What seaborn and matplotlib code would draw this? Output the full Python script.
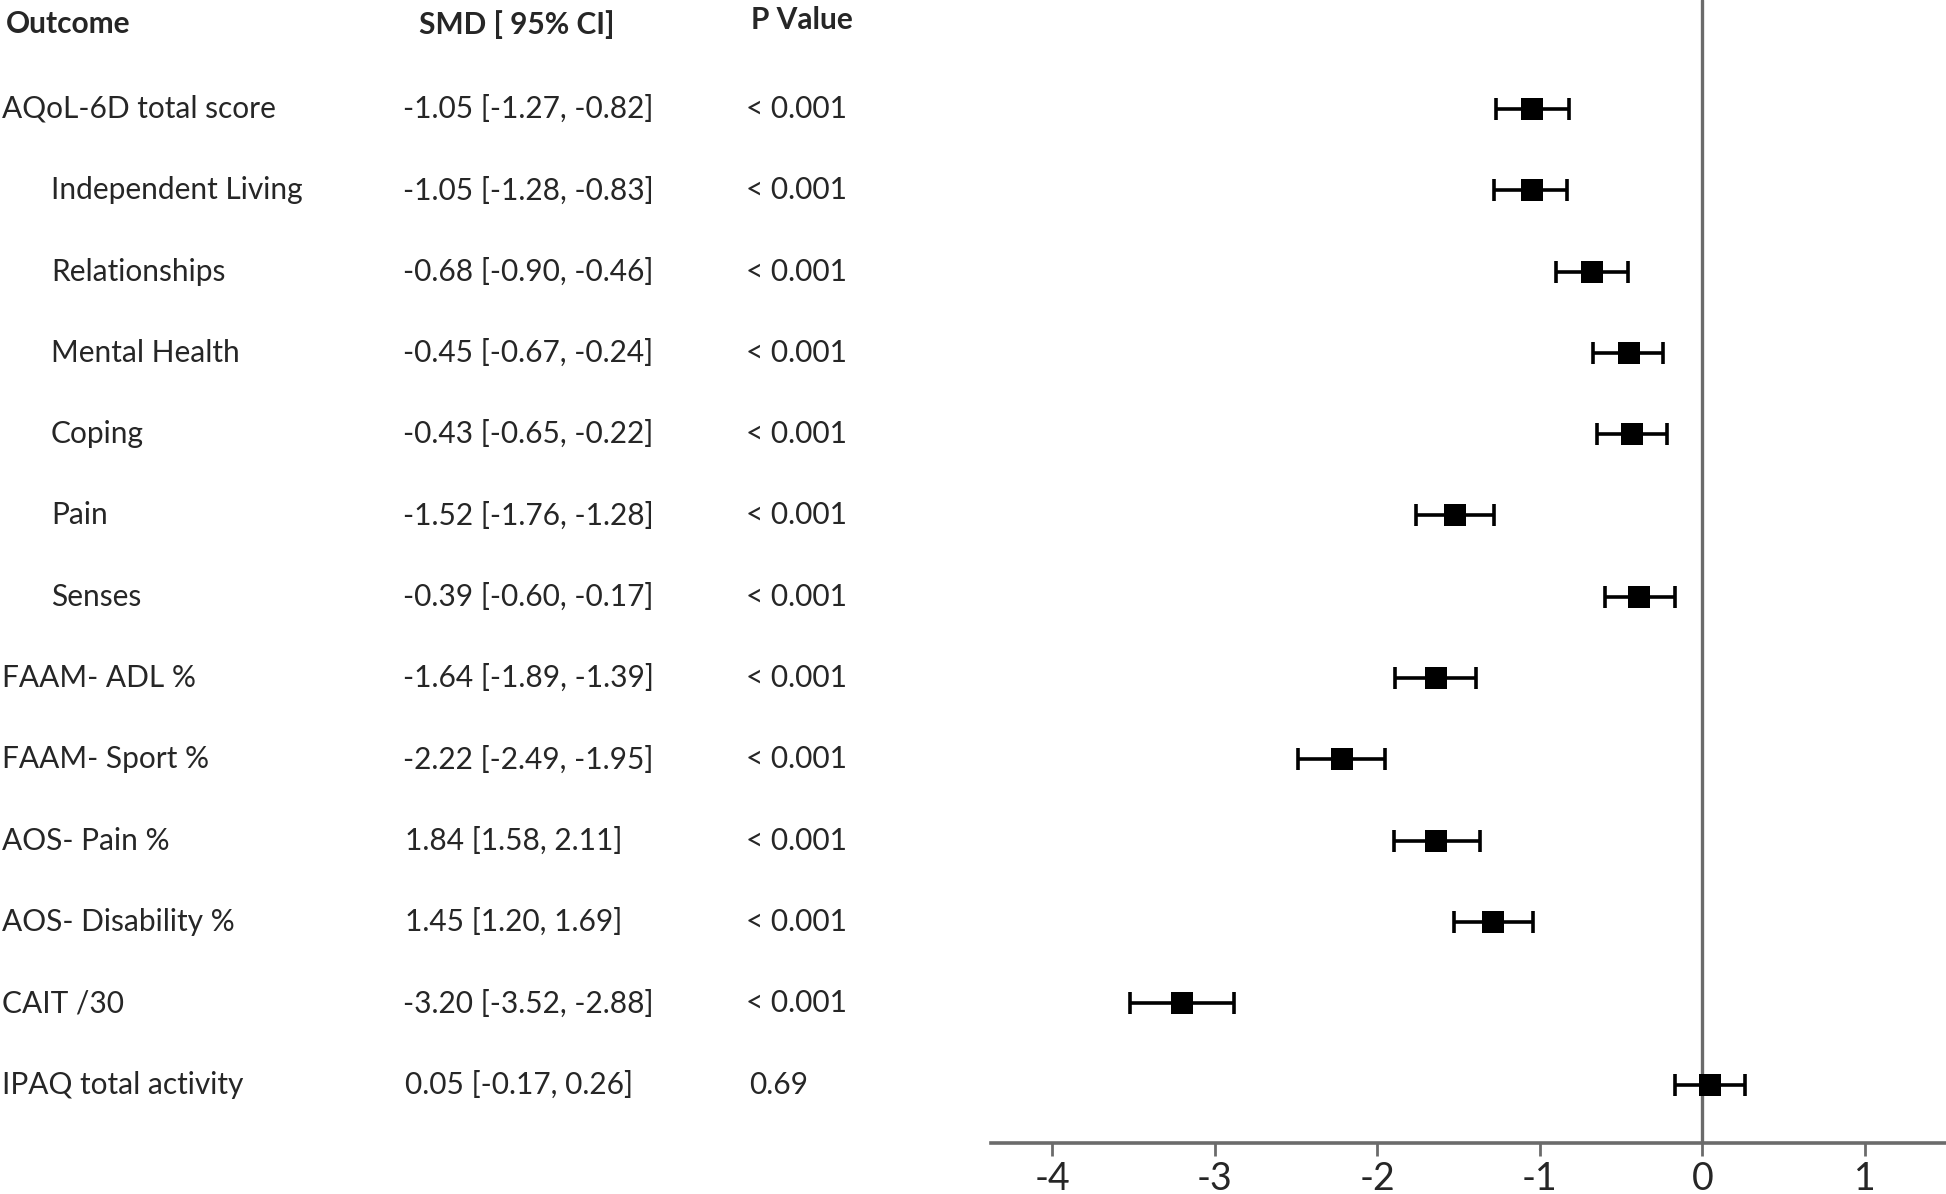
import matplotlib
matplotlib.use("Agg")
import matplotlib.pyplot as plt
import matplotlib.transforms as mtransforms
import numpy as np
import pandas as pd
import seaborn as sns

# ----------------------------------------------------------------
# Data
# ----------------------------------------------------------------
outcomes = [
    "AQoL-6D total score", "Independent Living", "Relationships",
    "Mental Health", "Coping", "Pain", "Senses", "FAAM- ADL %",
    "FAAM- Sport %", "AOS- Pain %", "AOS- Disability %", "CAIT /30",
    "IPAQ total activity",
]
indented = [False, True, True, True, True, True, True,
            False, False, False, False, False, False]
smd_text = [
    "-1.05 [-1.27, -0.82]", "-1.05 [-1.28, -0.83]", "-0.68 [-0.90, -0.46]",
    "-0.45 [-0.67, -0.24]", "-0.43 [-0.65, -0.22]", "-1.52 [-1.76, -1.28]",
    "-0.39 [-0.60, -0.17]", "-1.64 [-1.89, -1.39]", "-2.22 [-2.49, -1.95]",
    "1.84 [1.58, 2.11]", "1.45 [1.20, 1.69]", "-3.20 [-3.52, -2.88]",
    "0.05 [-0.17, 0.26]",
]
p_text = ["< 0.001"] * 12 + ["0.69"]

# plotted markers (as drawn in the figure)
smd_plot = [-1.05, -1.05, -0.68, -0.45, -0.43, -1.52, -0.39,
            -1.64, -2.22, -1.64, -1.29, -3.20, 0.05]
ci_low = [-1.27, -1.28, -0.90, -0.67, -0.65, -1.76, -0.60,
          -1.89, -2.49, -1.90, -1.53, -3.52, -0.17]
ci_high = [-0.82, -0.83, -0.46, -0.24, -0.22, -1.28, -0.17,
           -1.39, -1.95, -1.37, -1.04, -2.88, 0.26]

df = pd.DataFrame({
    "outcome": outcomes,
    "row": np.arange(len(outcomes)),
    "smd": smd_plot,
    "lo": ci_low,
    "hi": ci_high,
})

sns.set_theme(style="white")
plt.rcParams["font.family"] = ["Lato", "DejaVu Sans"]

fig = plt.figure(figsize=(19.46, 11.94), dpi=100)
ax = fig.add_axes([0.509, 0.0426, 0.491, 0.9574])

# whiskers with caps
ax.errorbar(df["smd"], df["row"],
            xerr=[df["smd"] - df["lo"], df["hi"] - df["smd"]],
            fmt="none", ecolor="black", elinewidth=2.6,
            capsize=8, capthick=2.6, zorder=2)
# square point estimates
sns.scatterplot(data=df, x="smd", y="row", marker="s", s=235,
                color="black", edgecolor="black", linewidth=0,
                legend=False, zorder=3, ax=ax)

ax.axvline(0, color="#6b6b6b", lw=2.4, zorder=1)

ax.set_xlim(-4.38, 1.5)
ax.set_ylim(12.72, -1.34)
ax.set_xticks([-4, -3, -2, -1, 0, 1])
ax.set_xticklabels(["-4", "-3", "-2", "-1", "0", "1"])
ax.set_yticks([])
ax.set_xlabel("")
ax.set_ylabel("")

for side in ["top", "right", "left"]:
    ax.spines[side].set_visible(False)
ax.spines["bottom"].set_color("#6b6b6b")
ax.spines["bottom"].set_linewidth(2.6)
ax.tick_params(axis="x", direction="out", length=9, width=2,
               color="#6b6b6b", labelsize=27, pad=4, bottom=True)

# ----------------------------------------------------------------
# Table columns to the left of the plot
# ----------------------------------------------------------------
trans = mtransforms.blended_transform_factory(fig.transFigure, ax.transData)
W = 1568.0
fs = 21.5

ax.text(5 / W, -1.04, "Outcome", transform=trans, fontsize=fs,
        fontweight="bold", va="center", ha="left", clip_on=False)
ax.text(338 / W, -1.04, "SMD [ 95% CI]", transform=trans, fontsize=fs,
        fontweight="bold", va="center", ha="left", clip_on=False)
ax.text(605 / W, -1.09, "P Value", transform=trans, fontsize=fs,
        fontweight="bold", va="center", ha="left", clip_on=False)

for i, (name, ind, s_txt, p_txt) in enumerate(zip(outcomes, indented, smd_text, p_text)):
    x0 = 41 / W if ind else 2 / W
    ax.text(x0, i, name, transform=trans, fontsize=fs,
            va="center", ha="left", clip_on=False)
    sx = 325 / W if s_txt.startswith("-") else 326 / W
    ax.text(sx, i, s_txt, transform=trans, fontsize=fs,
            va="center", ha="left", clip_on=False)
    px = 601 / W if p_txt.startswith("<") else 604 / W
    ax.text(px, i, p_txt, transform=trans, fontsize=fs,
            va="center", ha="left", clip_on=False)

fig.savefig("out.png", dpi=100)
